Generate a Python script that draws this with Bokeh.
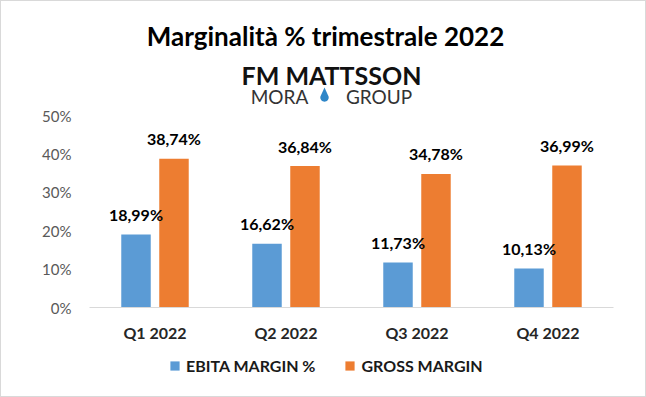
import math
from bokeh.plotting import figure
from bokeh.layouts import column
from bokeh.models import (ColumnDataSource, FactorRange, Range1d, FixedTicker,
                          CustomJSTickFormatter, Label, Legend, LegendItem,
                          PolyAnnotation)
from bokeh.transform import dodge
from bokeh.core.properties import value
from bokeh.embed import file_html
from bokeh.resources import INLINE

# ---- data ----
quarters = ["Q1 2022", "Q2 2022", "Q3 2022", "Q4 2022"]
ebita_margin = [18.99, 16.62, 11.73, 10.13]
gross_margin = [38.74, 36.84, 34.78, 36.99]
y_ticks = [0, 10, 20, 30, 40, 50]
series_names = ["EBITA MARGIN %", "GROSS MARGIN"]
title_text = "Marginalità % trimestrale 2022"

BLUE = "#5B9BD5"
ORANGE = "#ED7D31"
FONT = "Lato"

def fmt(v):
    return f"{v:.2f}".replace(".", ",") + "%"

src = ColumnDataSource(dict(
    q=quarters,
    ebita=ebita_margin,
    gross=gross_margin,
    ebita_lbl=[fmt(v) for v in ebita_margin],
    gross_lbl=[fmt(v) for v in gross_margin],
))

B = 1                      # outer border width (css)
W, H = 646 - 2 * B, 397 - 2 * B
FL = 89 - B
FW = 524
FR = W - FL - FW
FRAME_H = 307 - B          # frame spans from canvas top to the 0% line
AXIS_H = 38                # room for the category labels
LEG_H = H - FRAME_H - AXIS_H
PX_PER_PCT = 3.84

p = figure(x_range=FactorRange(*quarters, range_padding=0),
           y_range=Range1d(0, FRAME_H / PX_PER_PCT),
           frame_width=FW, frame_height=FRAME_H,
           min_border_left=FL, min_border_right=FR,
           min_border_top=0, min_border_bottom=AXIS_H,
           output_backend="svg", toolbar_location=None)
p.background_fill_color = "white"
p.border_fill_color = "white"
p.outline_line_color = None
p.xgrid.grid_line_color = None
p.ygrid.grid_line_color = None

off = 0.145
bw = 0.225
p.vbar(x=dodge("q", -off, range=p.x_range), top="ebita", width=bw, source=src,
       fill_color=BLUE, line_color=None)
p.vbar(x=dodge("q", off, range=p.x_range), top="gross", width=bw, source=src,
       fill_color=ORANGE, line_color=None)

for col, lbl, o in (("ebita", "ebita_lbl", -off), ("gross", "gross_lbl", off)):
    p.text(x=dodge("q", o, range=p.x_range), y=col, text=lbl, source=src,
           y_offset=-20, text_align="center", text_baseline="alphabetic",
           text_font=value(FONT), text_font_style="bold", text_font_size="16px",
           text_color="#000000")

# axes
p.yaxis.ticker = FixedTicker(ticks=y_ticks)
p.yaxis.formatter = CustomJSTickFormatter(code="return tick + '%';")
p.yaxis.axis_line_color = None
p.yaxis.major_tick_line_color = None
p.yaxis.minor_tick_line_color = None
p.yaxis.major_tick_out = 0
p.yaxis.major_tick_in = 0
p.yaxis.major_label_standoff = 18
p.yaxis.major_label_text_font = FONT
p.yaxis.major_label_text_font_size = "15px"
p.yaxis.major_label_text_color = "#595959"

p.xaxis.axis_line_color = "#D9D9D9"
p.xaxis.axis_line_width = 1
p.xaxis.major_tick_line_color = None
p.xaxis.minor_tick_line_color = None
p.xaxis.major_tick_out = 0
p.xaxis.major_tick_in = 0
p.xaxis.major_label_standoff = 15
p.xaxis.major_label_text_font = FONT
p.xaxis.major_label_text_font_style = "bold"
p.xaxis.major_label_text_font_size = "16px"
p.xaxis.major_label_text_color = "#262626"

# title & logo (page position -> screen units relative to the frame's bottom-left)
def sx(X):
    return X - B - FL
def sy(Y):
    return FRAME_H - (Y - B)

def lab(text, X, Y, size, style, color):
    p.add_layout(Label(x=sx(X), y=sy(Y), x_units="screen", y_units="screen",
                       text=text, text_align="center", text_baseline="alphabetic",
                       text_font=FONT, text_font_style=style, text_font_size=size,
                       text_color=color))

lab(title_text, 325, 35, "26px", "bold", "#000000")
lab("FM MATTSSON", 331, 74, "25px", "bold", "#111111")
lab("MORA", 279, 96, "19px", "normal", "#333333")
lab("GROUP", 378.5, 96, "19px", "normal", "#333333")

# water drop of the logo
cx, cy, rr = 324.0, 97.0, 4.2
angles = range(-30, 211, 12)
drop_x = [cx] + [cx + rr * math.cos(math.radians(t)) for t in angles]
drop_y = [87.0] + [cy + rr * math.sin(math.radians(t)) for t in angles]
p.add_layout(PolyAnnotation(xs=[sx(v) for v in drop_x], ys=[sy(v) for v in drop_y],
                            xs_units="screen", ys_units="screen",
                            fill_color="#2E86C8", fill_alpha=1, line_color=None))

# ---- legend strip (frame aligned with the chart's frame by the column) ----
pl = figure(width=W, height=LEG_H, min_border=0, x_axis_type=None, y_axis_type=None,
            x_range=Range1d(0, 1), y_range=Range1d(0, 1),
            output_backend="svg", toolbar_location=None)
pl.outline_line_color = None
pl.xgrid.grid_line_color = None
pl.ygrid.grid_line_color = None
pl.background_fill_color = "white"
pl.border_fill_color = "white"
k1 = pl.scatter(x=[-5], y=[-5], marker="square", size=9, fill_color=BLUE, line_color=None)
k2 = pl.scatter(x=[-5], y=[-5], marker="square", size=9, fill_color=ORANGE, line_color=None)
legend = Legend(items=[LegendItem(label=series_names[0], renderers=[k1]),
                       LegendItem(label=series_names[1], renderers=[k2])],
                orientation="horizontal", location=(163 - B - FL, 19),
                glyph_width=23, glyph_height=23, label_height=23,
                label_standoff=0, spacing=23, padding=0, margin=0,
                border_line_color=None, background_fill_alpha=0,
                label_text_font=FONT, label_text_font_style="bold",
                label_text_font_size="16px", label_text_color="#1a1a1a")
pl.add_layout(legend, "center")

layout = column(p, pl, spacing=0,
                styles={"border": f"{B}px solid #D9D9D9", "background": "white"})
open("out.html", "w").write(file_html(layout, INLINE))
